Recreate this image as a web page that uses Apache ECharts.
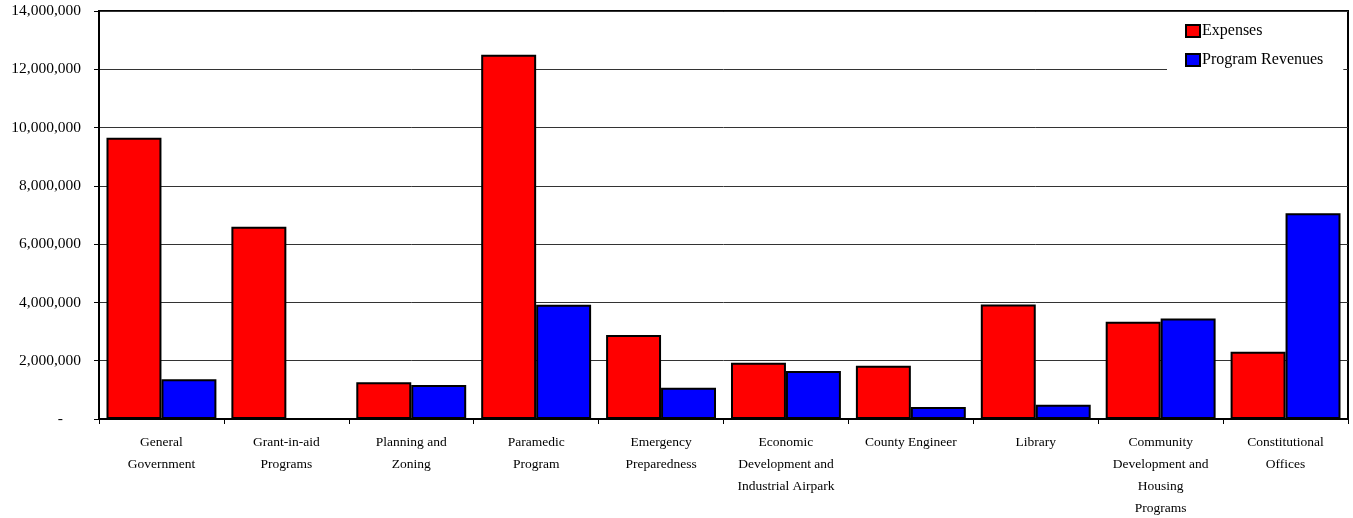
<!DOCTYPE html>
<html>
<head>
<meta charset="utf-8">
<script src="https://cdn.jsdelivr.net/npm/echarts@6/dist/echarts.min.js"></script>
<style>
html,body{margin:0;padding:0;background:#fff;}
#c{width:1353px;height:518px;}
</style>
</head>
<body>
<div id="c"></div>
<script>
const categories = [
  "General Government",
  "Grant-in-aid Programs",
  "Planning and Zoning",
  "Paramedic Program",
  "Emergency Preparedness",
  "Economic Development and Industrial Airpark",
  "County Engineer",
  "Library",
  "Community Development and Housing Programs",
  "Constitutional Offices"
];
const tickLabels = [
  "General\nGovernment",
  "Grant-in-aid\nPrograms",
  "Planning and\nZoning",
  "Paramedic\nProgram",
  "Emergency\nPreparedness",
  "Economic\nDevelopment and\nIndustrial Airpark",
  "County Engineer",
  "Library",
  "Community\nDevelopment and\nHousing\nPrograms",
  "Constitutional\nOffices"
];
const expenses = [9650000, 6600000, 1260000, 12500000, 2880000, 1930000, 1830000, 3930000, 3340000, 2310000];
const programRevenues = [1360000, 0, 1170000, 3920000, 1070000, 1650000, 410000, 490000, 3450000, 7060000];
const yTicks = [0, 2000000, 4000000, 6000000, 8000000, 10000000, 12000000, 14000000];

const font = "'Liberation Serif', 'Times New Roman', serif";
const chart = echarts.init(document.getElementById('c'));
chart.setOption({
  animation: false,
  backgroundColor: '#fff',
  textStyle: { fontFamily: font, color: '#000' },
  grid: {
    left: 99, right: 5, top: 11, bottom: 99,
    containLabel: false,
    outerBoundsMode: 'none',
    show: true, borderColor: '#000', borderWidth: 2, backgroundColor: 'transparent'
  },
  legend: {
    orient: 'vertical',
    left: 1167, top: 15,
    padding: [8, 20, 8, 18],
    backgroundColor: '#fff',
    itemWidth: 14, itemHeight: 12, itemGap: 13,
    icon: 'rect',
    textStyle: { fontFamily: font, fontSize: 16, color: '#000', padding: [0, 0, 0, -3] },
    data: ['Expenses', 'Program Revenues']
  },
  xAxis: {
    type: 'category',
    data: categories,
    axisLine: { lineStyle: { color: '#000', width: 2 } },
    axisTick: { show: true, length: 5, lineStyle: { color: '#000' }, alignWithLabel: false },
    axisLabel: {
      interval: 0, margin: 12, fontSize: 13.5, lineHeight: 22, color: '#000', fontFamily: font,
      formatter: (v, i) => tickLabels[i]
    },
    splitLine: { show: false }
  },
  yAxis: {
    type: 'value',
    min: yTicks[0], max: yTicks[yTicks.length - 1], interval: 2000000,
    axisLine: { show: true, lineStyle: { color: '#000', width: 2 } },
    axisTick: { show: true, length: 5, lineStyle: { color: '#000' } },
    axisLabel: {
      margin: 18, fontSize: 15.5, color: '#000', fontFamily: font,
      formatter: v => v === 0 ? '{d|-}' : v.toLocaleString('en-US'),
      rich: { d: { fontSize: 15.5, fontFamily: font, color: '#000', padding: [0, 18, 0, 0] } }
    },
    splitLine: { show: true, lineStyle: { color: '#333', width: 1 } }
  },
  series: [
    {
      name: 'Expenses', type: 'bar', data: expenses,
      barGap: '0%', barCategoryGap: '12%',
      itemStyle: { color: '#ff0000', borderColor: '#000', borderWidth: 2 }
    },
    {
      name: 'Program Revenues', type: 'bar', data: programRevenues,
      barGap: '0%', barCategoryGap: '12%',
      itemStyle: { color: '#0000ff', borderColor: '#000', borderWidth: 2 }
    }
  ]
});
</script>
</body>
</html>
